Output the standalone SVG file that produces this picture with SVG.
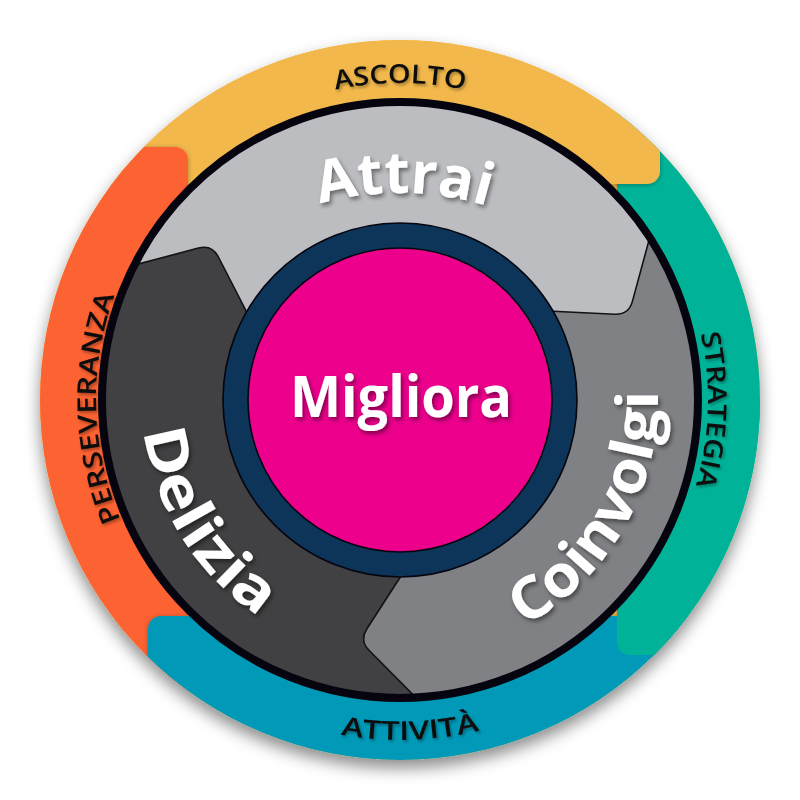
<svg xmlns="http://www.w3.org/2000/svg" width="800" height="800" viewBox="0 0 800 800">
  <style>
    .ring { font-family: "Open Sans", "Liberation Sans", sans-serif; font-size: 26px; font-weight: 600; fill: #0a0a0a; }
    .big { font-family: "Open Sans", "Liberation Sans", sans-serif; font-size: 58px; font-weight: 700; fill: #ffffff; }
    .bound { fill: none; stroke: #111116; stroke-width: 1.6; }
  </style>
  <defs>
    <filter id="discShadow" x="-10%" y="-10%" width="120%" height="125%">
      <feDropShadow dx="0" dy="8" stdDeviation="8" flood-color="#000" flood-opacity="0.45"/>
    </filter>
    <filter id="segShadow" x="-20%" y="-20%" width="140%" height="140%">
      <feDropShadow dx="0" dy="1" stdDeviation="2.5" flood-color="#000" flood-opacity="0.3"/>
    </filter>
    <filter id="txtShadow" x="-20%" y="-20%" width="140%" height="140%">
      <feDropShadow dx="2" dy="3" stdDeviation="2" flood-color="#000" flood-opacity="0.45"/>
    </filter>
    <filter id="lblShadow" x="-20%" y="-20%" width="140%" height="140%">
      <feDropShadow dx="1.5" dy="2" stdDeviation="1.5" flood-color="#000" flood-opacity="0.35"/>
    </filter>
    <clipPath id="outerClip"><circle cx="400" cy="400" r="360"/></clipPath>
    <clipPath id="innerClip"><circle cx="400" cy="400" r="300"/></clipPath>
    <path id="pAscolto" d="M 83,400 A 317 317 0 0 1 717,400"/>
    <path id="pStrategia" d="M 400,92 A 308 308 0 0 1 400,708"/>
    <path id="pAttivita" d="M 60,400 A 340 340 0 0 0 740,400"/>
    <path id="pPerseveranza" d="M 400,704 A 304 304 0 0 1 400,96"/>
    <path id="pAttrai" d="M 100,493 A 300 300 0 0 1 700,493"/>
    <path id="pCoinvolgi" d="M 400,658 A 258 258 0 0 0 400,142"/>
    <path id="pDelizia" d="M 400,142 A 258 258 0 0 0 400,658"/>
  </defs>

  <!-- outer coloured ring -->
  <g id="outer-ring" filter="url(#discShadow)">
    <g clip-path="url(#outerClip)">
      <rect x="0" y="0" width="800" height="800" fill="#f2b84b"/>
      <g id="seg-strategia" filter="url(#segShadow)"><rect x="617" y="-20" width="220" height="675" rx="13" fill="#00b398"/></g>
      <g id="seg-ascolto" filter="url(#segShadow)"><rect x="-30" y="-20" width="690" height="204" rx="13" fill="#f2b84b"/></g>
      <g id="seg-perseveranza" filter="url(#segShadow)"><rect x="-30" y="147" width="218" height="700" rx="13" fill="#fd6233"/></g>
      <g id="seg-attivita" filter="url(#segShadow)"><rect x="148" y="616" width="700" height="220" rx="13" fill="#009ab8"/></g>
      <rect x="617" y="400" width="220" height="255" rx="13" fill="#00b398"/>
    </g>
  </g>

  <!-- ring labels -->
  <g id="label-ascolto" filter="url(#lblShadow)">
    <text class="ring"><textPath href="#pAscolto" startOffset="497.9" text-anchor="middle" textLength="130" lengthAdjust="spacingAndGlyphs">ASCOLTO</textPath></text>
  </g>
  <g id="label-strategia" filter="url(#lblShadow)">
    <text class="ring"><textPath href="#pStrategia" startOffset="493.5" text-anchor="middle" textLength="154" lengthAdjust="spacingAndGlyphs">STRATEGIA</textPath></text>
  </g>
  <g id="label-attivita" filter="url(#lblShadow)">
    <text class="ring"><textPath href="#pAttivita" startOffset="544" text-anchor="middle" textLength="140" lengthAdjust="spacingAndGlyphs">ATTIVITÀ</textPath></text>
  </g>
  <g id="label-perseveranza" filter="url(#lblShadow)">
    <text class="ring"><textPath href="#pPerseveranza" startOffset="469" text-anchor="middle" textLength="230" lengthAdjust="spacingAndGlyphs">PERSEVERANZA</textPath></text>
  </g>

  <!-- inner wheel -->
  <g id="wheel">
    <circle cx="400" cy="400" r="298" fill="#bcbdc0"/>
    <g clip-path="url(#innerClip)">
      <path id="seg-coinvolgi" d="M 661.3,194.9 L 632.4,301.4 Q 628.7,314.9 614.7,314.2 L 517.1,309.5 L 400,400 L 419.9,546.7 L 366.9,628.8 Q 359.3,640.6 369.2,650.5 L 447.1,729 L 800,800 L 800,150 Z" fill="#808184"/>
      <path id="seg-delizia" d="M 447.1,729 L 369.2,650.5 Q 359.3,640.6 366.9,628.8 L 419.9,546.7 L 400,400 L 263,343.8 L 218.4,257 Q 212,244.5 198.5,248.1 L 91.5,276.3 L 0,280 L 0,800 L 440,800 Z" fill="#414042"/>
      <g id="connectors">
        <path class="bound" d="M 91.5,276.3 L 198.5,248.1 Q 212,244.5 218.4,257 L 263,343.8"/>
        <path class="bound" d="M 661.3,194.9 L 632.4,301.4 Q 628.7,314.9 614.7,314.2 L 517.1,309.5"/>
        <path class="bound" d="M 447.1,729 L 369.2,650.5 Q 359.3,640.6 366.9,628.8 L 419.9,546.7"/>
      </g>
    </g>
    <circle cx="400" cy="400" r="298" fill="none" stroke="#06050f" stroke-width="8"/>
  </g>

  <g id="node-attrai" filter="url(#txtShadow)">
    <text class="big" font-size="57"><textPath href="#pAttrai" startOffset="475" text-anchor="middle" textLength="170" lengthAdjust="spacingAndGlyphs">Attrai</textPath></text>
  </g>
  <g id="node-coinvolgi" filter="url(#txtShadow)">
    <text class="big" font-size="60"><textPath href="#pCoinvolgi" startOffset="272" text-anchor="middle" textLength="285" lengthAdjust="spacingAndGlyphs">Coinvolgi</textPath></text>
  </g>
  <g id="node-delizia" filter="url(#txtShadow)">
    <text class="big" font-size="60"><textPath href="#pDelizia" startOffset="549" text-anchor="middle" textLength="226" lengthAdjust="spacingAndGlyphs">Delizia</textPath></text>
  </g>

  <!-- centre -->
  <g id="node-migliora">
    <circle cx="400" cy="400" r="177" fill="#0d355a" stroke="#06050f" stroke-width="1.6"/>
    <circle cx="400" cy="400" r="152" fill="#ec008c" stroke="#06050f" stroke-width="1.6"/>
    <text x="401" y="417" text-anchor="middle" class="big" font-size="50" textLength="222" lengthAdjust="spacingAndGlyphs" filter="url(#txtShadow)">Migliora</text>
  </g>
</svg>
